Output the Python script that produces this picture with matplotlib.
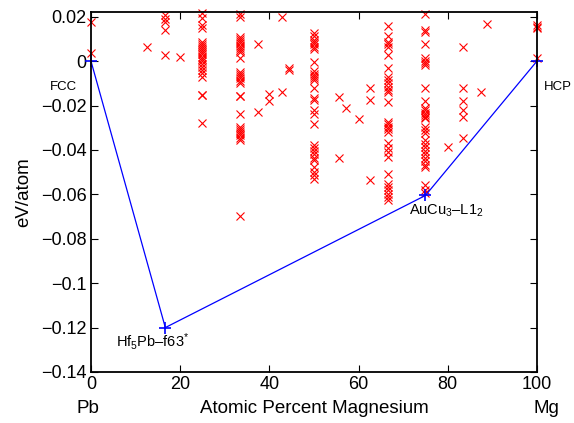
import matplotlib
matplotlib.use('Agg')
import matplotlib.pyplot as plt
import numpy as np

plt.rcParams['font.family'] = ['Liberation Sans', 'DejaVu Sans']
plt.rcParams['mathtext.fontset'] = 'custom'
plt.rcParams['mathtext.rm'] = 'Liberation Sans'
plt.rcParams['mathtext.it'] = 'Liberation Sans:italic'

#%% Data
# ground state hull (at.% Mg, eV/atom)
hull_x = [0, 16.67, 75, 100]
hull_e = [0, -0.120, -0.0605, 0]
hull_names = ['FCC', r'Hf$_{\mathrm{5}}$Pb–f63$^{*}$', r'AuCu$_{\mathrm{3}}$–L1$_{\mathrm{2}}$', 'HCP']

# other calculated structures, grouped by composition
comp_x = [0, 12.5, 16.67, 20, 25, 33.33, 37.5, 40, 42.86, 44.44, 50,
          55.56, 57.14, 60, 62.5, 66.67, 75, 80, 83.33, 87.5, 88.89, 100]
comp_e = [
    [0.0177, 0.0037],
    [0.0062],
    [0.0207, 0.0190, 0.0177, 0.0140, 0.0027],
    [0.0017],
    [0.0215, 0.0193, 0.0162, 0.0147, 0.0087, 0.0078, 0.0070, 0.0060, 0.0050,
     0.0040, 0.0030, 0.0020, 0.0010, 0.0, -0.0012, -0.0025, -0.0040, -0.0055,
     -0.0071, -0.0153, -0.0153, -0.0277],
    [0.0212, 0.0200, 0.0107, 0.0098, 0.0090, 0.0080, 0.0070, 0.0060, 0.0050,
     0.0042, 0.0012, -0.0048, -0.0058, -0.0068, -0.0078, -0.0090, -0.0100,
     -0.0158, -0.0158, -0.0239, -0.0296, -0.0305, -0.0315, -0.0325, -0.0335,
     -0.0345, -0.0356, -0.0698],
    [0.0077, -0.0229],
    [-0.0146, -0.0179],
    [0.0198, -0.0140],
    [-0.0030, -0.0038],
    [0.0128, 0.0113, 0.0095, 0.0085, 0.0075, 0.0065, 0.0053, -0.0003, -0.0044,
     -0.0059, -0.0068, -0.0077, -0.0086, -0.0123, -0.0164, -0.0176, -0.0218,
     -0.0239, -0.0284, -0.0379, -0.0392, -0.0405, -0.0420, -0.0435, -0.0447,
     -0.0477, -0.0500, -0.0515, -0.0530],
    [-0.0161, -0.0436],
    [-0.0209],
    [-0.0263],
    [-0.0120, -0.0173, -0.0537],
    [0.0158, 0.0113, 0.0087, 0.0076, 0.0065, 0.0027, -0.0033, -0.0071, -0.0085,
     -0.0100, -0.0115, -0.0128, -0.0138, -0.0184, -0.0274, -0.0285, -0.0297,
     -0.0308, -0.0319, -0.0371, -0.0390, -0.0410, -0.0432, -0.0507, -0.0552,
     -0.0567, -0.0582, -0.0597, -0.0612, -0.0627],
    [0.0212, 0.0139, 0.0132, 0.0077, 0.0012, 0.0002, -0.0008, -0.0018, -0.0119,
     -0.0179, -0.0213, -0.0222, -0.0232, -0.0242, -0.0250, -0.0258, -0.0296,
     -0.0311, -0.0326, -0.0356, -0.0372, -0.0388, -0.0404, -0.0420, -0.0436,
     -0.0452, -0.0467, -0.0477, -0.0559, -0.0582, -0.0593],
    [-0.0386],
    [0.0062, -0.0119, -0.0179, -0.0221, -0.0251, -0.0346],
    [-0.0140],
    [0.0167],
    [0.0162, 0.0155, 0.0147, 0.0012],
]

x_ticks = [0, 20, 40, 60, 80, 100]
y_ticks = [0.02, 0, -0.02, -0.04, -0.06, -0.08, -0.1, -0.12, -0.14]
y_tick_labels = ['0.02', '0', '\u22120.02', '\u22120.04', '\u22120.06', '\u22120.08',
                 '\u22120.1', '\u22120.12', '\u22120.14']

#%% Plot
fig = plt.figure(figsize=(5.74, 4.23), dpi=100)
ax = fig.add_axes([0.1585, 0.1206, 0.777, 0.851])

for xc, es in zip(comp_x, comp_e):
    ax.plot([xc]*len(es), es, 'x', color='#ff0000', ms=5.5, mew=0.8, clip_on=False)

ax.plot(hull_x, hull_e, '-', color='#0000ff', lw=0.9, clip_on=False)
ax.plot(hull_x, hull_e, '+', color='#0000ff', ms=8, mew=1.2, clip_on=False)

# structure labels
ax.text(-3.2, -0.0118, hull_names[0], fontsize=9.5, ha='right', va='center')
ax.text(5.5, -0.1262, hull_names[1], fontsize=10.5, ha='left', va='center')
ax.text(71.2, -0.0676, hull_names[2], fontsize=10.5, ha='left', va='center')
ax.text(1.5 + 100, -0.0118, hull_names[3], fontsize=9.5, ha='left', va='center')

ax.set_xlim(0, 100)
ax.set_ylim(-0.14, 0.0221)
ax.set_xticks(x_ticks)
ax.set_yticks(y_ticks)
ax.set_yticklabels(y_tick_labels)
ax.tick_params(direction='in', top=True, right=True, labelsize=13, length=5, width=0.8, pad=3)
for s in ax.spines.values():
    s.set_linewidth(1.3)

ax.set_ylabel('eV/atom', fontsize=13.5, labelpad=6)
ax.set_xlabel('Atomic Percent Magnesium', fontsize=13.5, labelpad=5)
fig.text(88/574, 1-408/423, 'Pb', fontsize=13.5, ha='center', va='center')
fig.text(546/574, 1-408/423, 'Mg', fontsize=13.5, ha='center', va='center')

fig.savefig('out.png', dpi=100)
